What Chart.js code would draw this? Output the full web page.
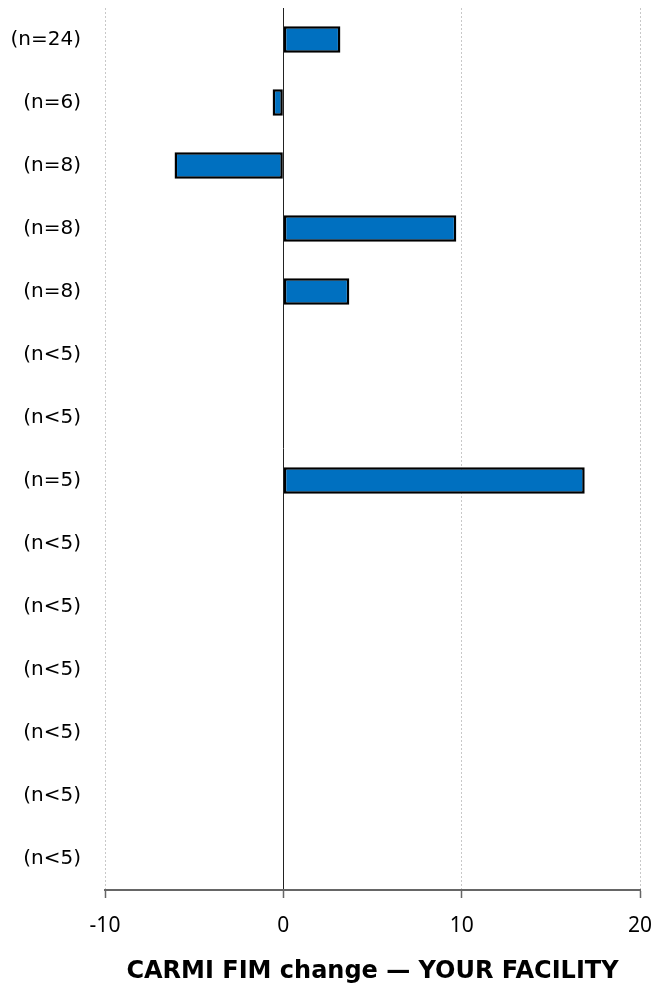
<!DOCTYPE html>
<html>
<head>
<meta charset="utf-8">
<script src="https://cdn.jsdelivr.net/npm/chart.js@4"></script>
<style>
  html, body { margin: 0; padding: 0; background: #fff; }
  #wrap { width: 664px; height: 988px; }
</style>
</head>
<body>
<div id="wrap"><canvas id="fimChart"></canvas></div>
<script>
// Group sizes shown on the y axis
const groupLabels = ['(n=24)', '(n=6)', '(n=8)', '(n=8)', '(n=8)', '(n<5)', '(n<5)',
                     '(n=5)', '(n<5)', '(n<5)', '(n<5)', '(n<5)', '(n<5)', '(n<5)'];
// FIM change per group (groups with n<5 are suppressed)
const fimChange = [3.2, -0.6, -6.1, 9.7, 3.7, null, null, 16.9, null, null, null, null, null, null];
const xTicks = [-10, 0, 10, 20];

const ctx = document.getElementById('fimChart').getContext('2d');
new Chart(ctx, {
    type: 'bar',
    data: {
        labels: groupLabels,
        datasets: [{
            data: fimChange,
            backgroundColor: '#0070C0',
            borderColor: '#000',
            borderWidth: 2.5,
            borderSkipped: false,
            categoryPercentage: 0.42,
            barPercentage: 1.0
        }]
    },
    options: {
        indexAxis: 'y',
        responsive: true,
        maintainAspectRatio: false,
        animation: false,
        layout: { padding: { top: 8, right: 24, left: 4, bottom: 2 } },
        plugins: {
            legend: { display: false },
            tooltip: { enabled: false }
        },
        scales: {
            x: {
                min: xTicks[0],
                max: xTicks[xTicks.length - 1],
                afterBuildTicks: scale => { scale.ticks = xTicks.map(v => ({ value: v })); },
                grid: {
                    color: c => (c.tick && c.tick.value === 0) ? '#222' : '#c8c8c8',
                    lineWidth: 1,
                    tickColor: '#666',
                    tickLength: 8,
                    tickWidth: 1.5
                },
                border: {
                    color: '#666',
                    width: 2,
                    dash: c => (c.tick && c.tick.value === 0) ? [] : [2, 2]
                },
                ticks: {
                    color: '#000',
                    font: { family: '"Noto Sans", sans-serif', size: 21 },
                    padding: 15
                },
                title: {
                    display: true,
                    text: 'CARMI FIM change \u2014 YOUR FACILITY',
                    color: '#000',
                    font: { family: '"DejaVu Sans", sans-serif', size: 24, weight: 'bold' },
                    padding: { top: 4, bottom: 0 }
                },
                afterFit: scale => {
                    scale.paddingLeft = 0;
                    scale.paddingRight = 0;
                }
            },
            y: {
                grid: { display: false, drawTicks: true, tickLength: 24 },
                border: { display: false },
                ticks: {
                    color: '#000',
                    font: { family: '"DejaVu Sans", sans-serif', size: 20 },
                    padding: 0
                },
                afterFit: scale => {
                    scale.width = 101;
                    scale.paddingTop = 0;
                    scale.paddingBottom = 0;
                }
            }
        }
    }
});
</script>
</body>
</html>
